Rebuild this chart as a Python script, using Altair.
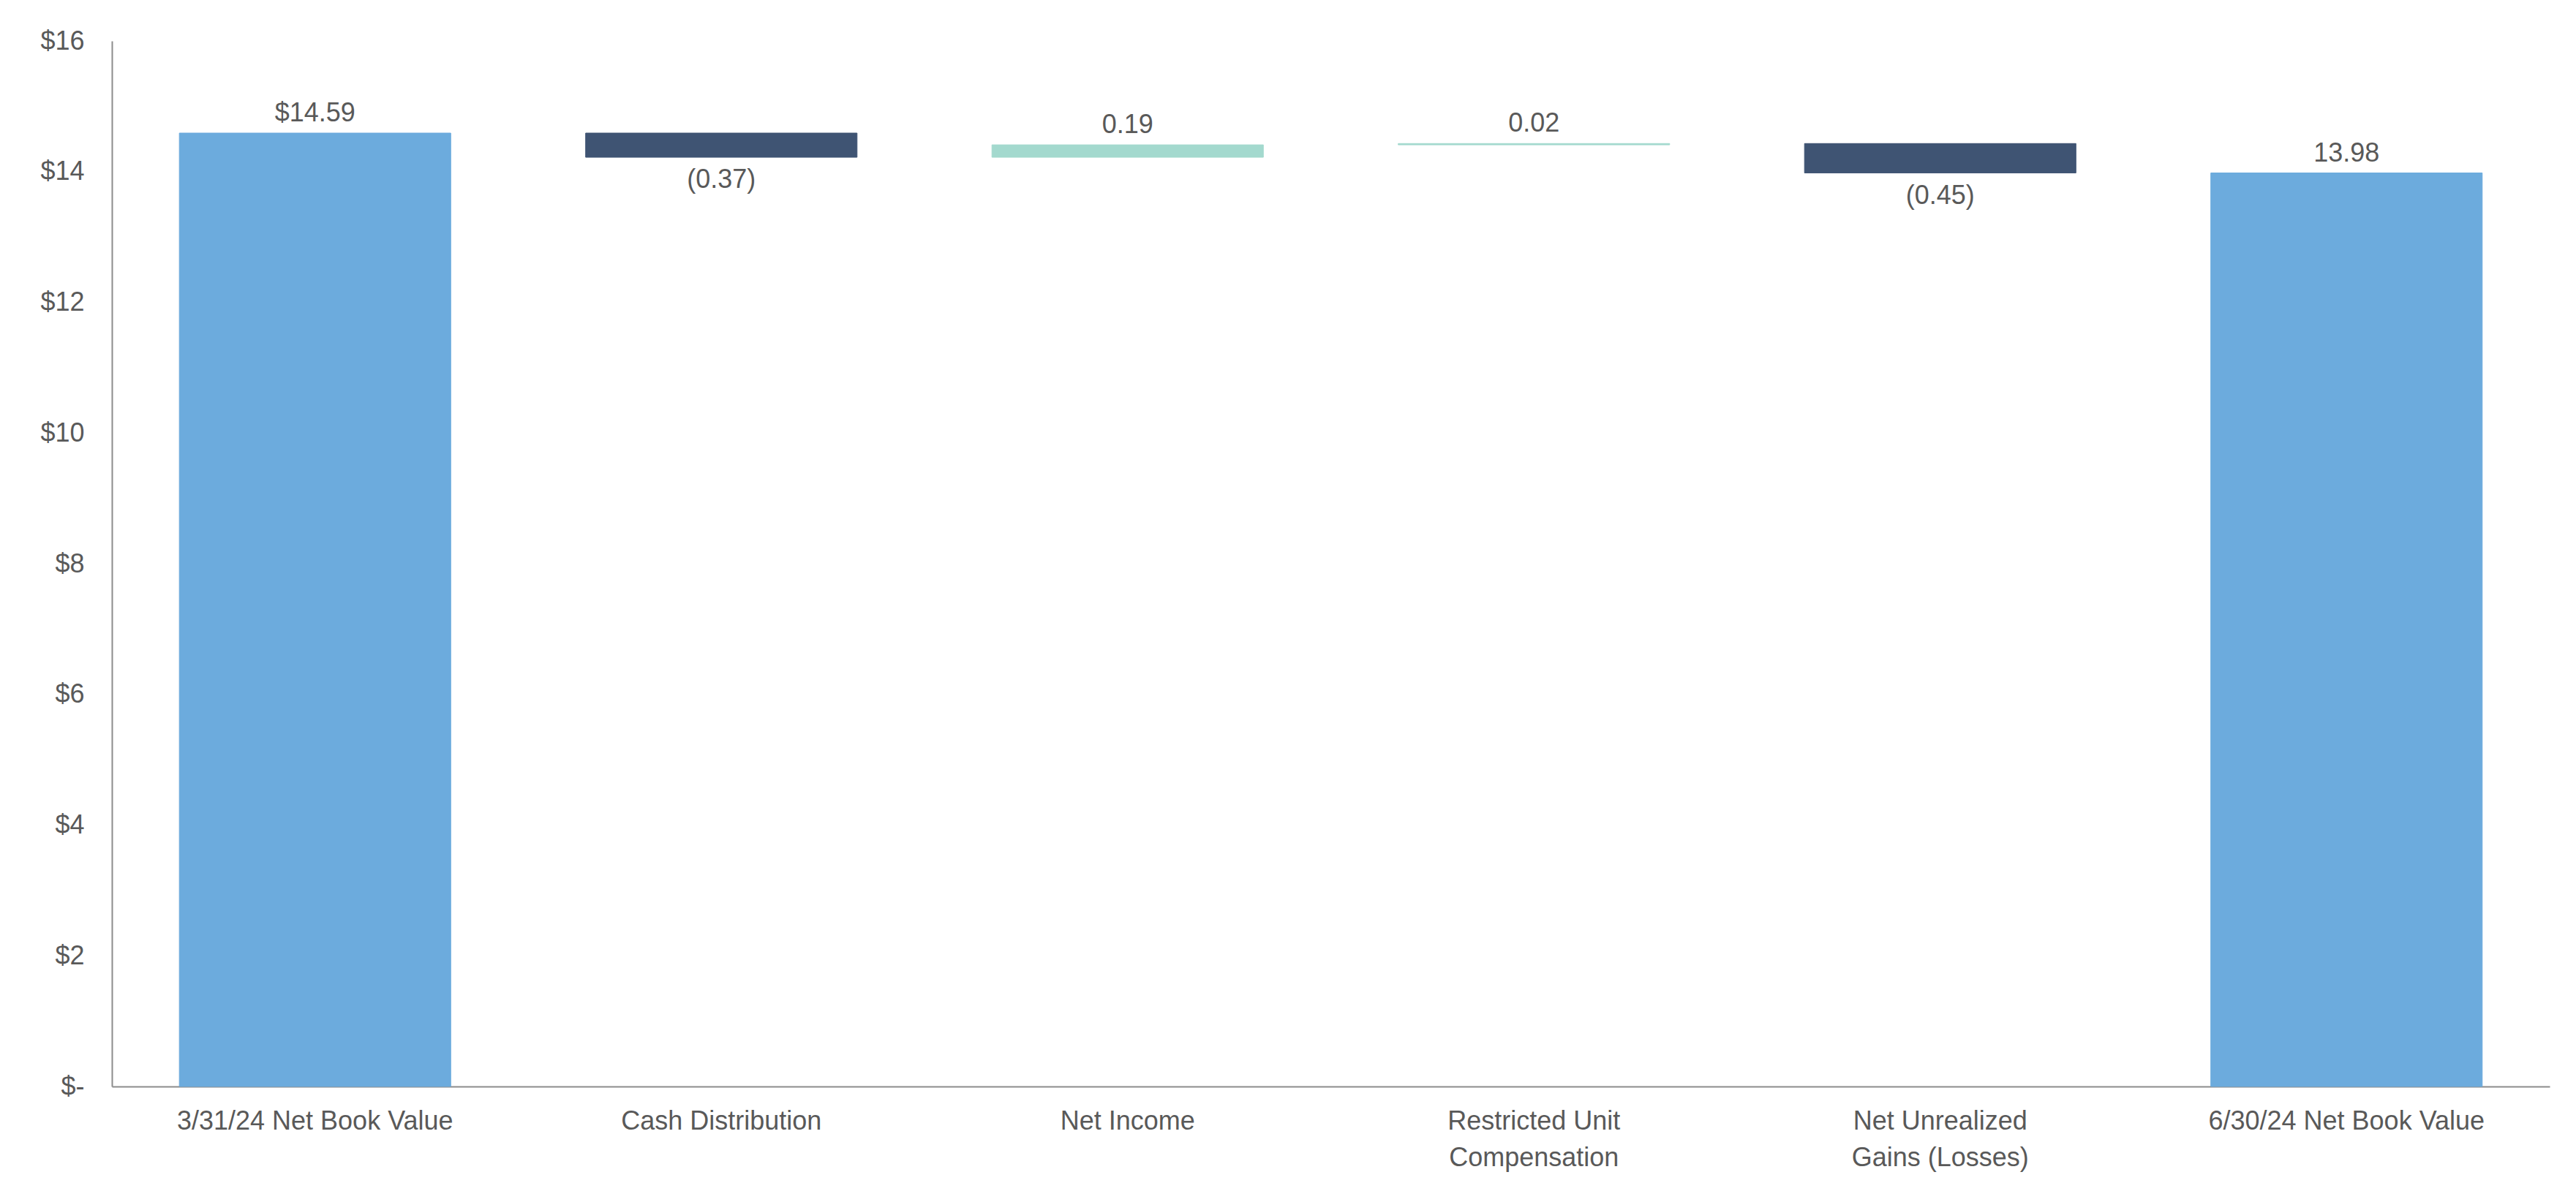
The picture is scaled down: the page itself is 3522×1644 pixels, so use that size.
import altair as alt
import pandas as pd

categories = [
    "3/31/24 Net Book Value",
    "Cash Distribution",
    "Net Income",
    "Restricted Unit Compensation",
    "Net Unrealized Gains (Losses)",
    "6/30/24 Net Book Value",
]
values = [14.59, -0.37, 0.19, 0.02, -0.45, 13.98]
kinds = ["total", "neg", "pos", "pos", "neg", "total"]
labels = ["$14.59", "(0.37)", "0.19", "0.02", "(0.45)", "13.98"]

rows = []
running = 0.0
for cat, v, k, lab in zip(categories, values, kinds, labels):
    if k == "total":
        start, end = 0.0, v
        running = v
    else:
        start = running
        end = running + v
        running = end
    rows.append({
        "category": cat, "start": start, "end": end, "kind": k, "label": lab,
        "top": max(start, end), "bottom": min(start, end),
    })
df = pd.DataFrame(rows)

FONT = "Liberation Sans"
GRAY = "#595959"

x_label_expr = (
    "datum.label == 'Restricted Unit Compensation' ? ['Restricted Unit', 'Compensation'] : "
    "datum.label == 'Net Unrealized Gains (Losses)' ? ['Net Unrealized', 'Gains (Losses)'] : datum.label"
)

x_enc = alt.X(
    "category:N", sort=categories, title=None,
    scale=alt.Scale(paddingInner=0.332, paddingOuter=0.166),
    axis=alt.Axis(
        labelAngle=0, labelExpr=x_label_expr, ticks=False, domainColor="#8C8C8C",
        domainWidth=2, labelFont=FONT, labelFontSize=36, labelColor=GRAY,
        labelPadding=30, labelLineHeight=50, labelBaseline="top", labelLimit=1000,
    ),
)

y_enc = alt.Y(
    "start:Q", title=None,
    scale=alt.Scale(domain=[0, 16], nice=False),
    axis=alt.Axis(
        values=[0, 2, 4, 6, 8, 10, 12, 14, 16], grid=False, ticks=False,
        domainColor="#8C8C8C", domainWidth=2, labelFont=FONT, labelFontSize=36,
        labelColor=GRAY, labelPadding=38,
        labelExpr="datum.value == 0 ? '$-' : '$' + datum.value",
    ),
)

color_enc = alt.Color(
    "kind:N",
    scale=alt.Scale(domain=["total", "neg", "pos"], range=["#6CABDD", "#3F5473", "#A3D9CE"]),
    legend=None,
)

bars = alt.Chart(df).mark_bar(strokeWidth=1).encode(
    x=x_enc, y=y_enc, y2="end:Q", color=color_enc,
    stroke=alt.Stroke("kind:N", scale=alt.Scale(domain=["total", "neg", "pos"], range=["#6CABDD", "#3F5473", "#A3D9CE"]), legend=None),
)

above = alt.Chart(df).transform_filter("datum.kind != 'neg'").mark_text(
    font=FONT, fontSize=36, color=GRAY, baseline="alphabetic", dy=-16
).encode(x=alt.X("category:N", sort=categories), y=alt.Y("top:Q"), text="label:N")

below = alt.Chart(df).transform_filter("datum.kind == 'neg'").mark_text(
    font=FONT, fontSize=36, color=GRAY, baseline="top", dy=14
).encode(x=alt.X("category:N", sort=categories), y=alt.Y("bottom:Q"), text="label:N")

chart = alt.layer(bars, above, below).properties(
    width=3333, height=1430,
    autosize=alt.AutoSizeParams(type="none"),
    padding={"left": 153, "top": 56, "right": 36, "bottom": 158},
    background="white",
).configure_view(stroke=None)

chart.save("out.html", embed_options={"renderer": "svg", "actions": False})
